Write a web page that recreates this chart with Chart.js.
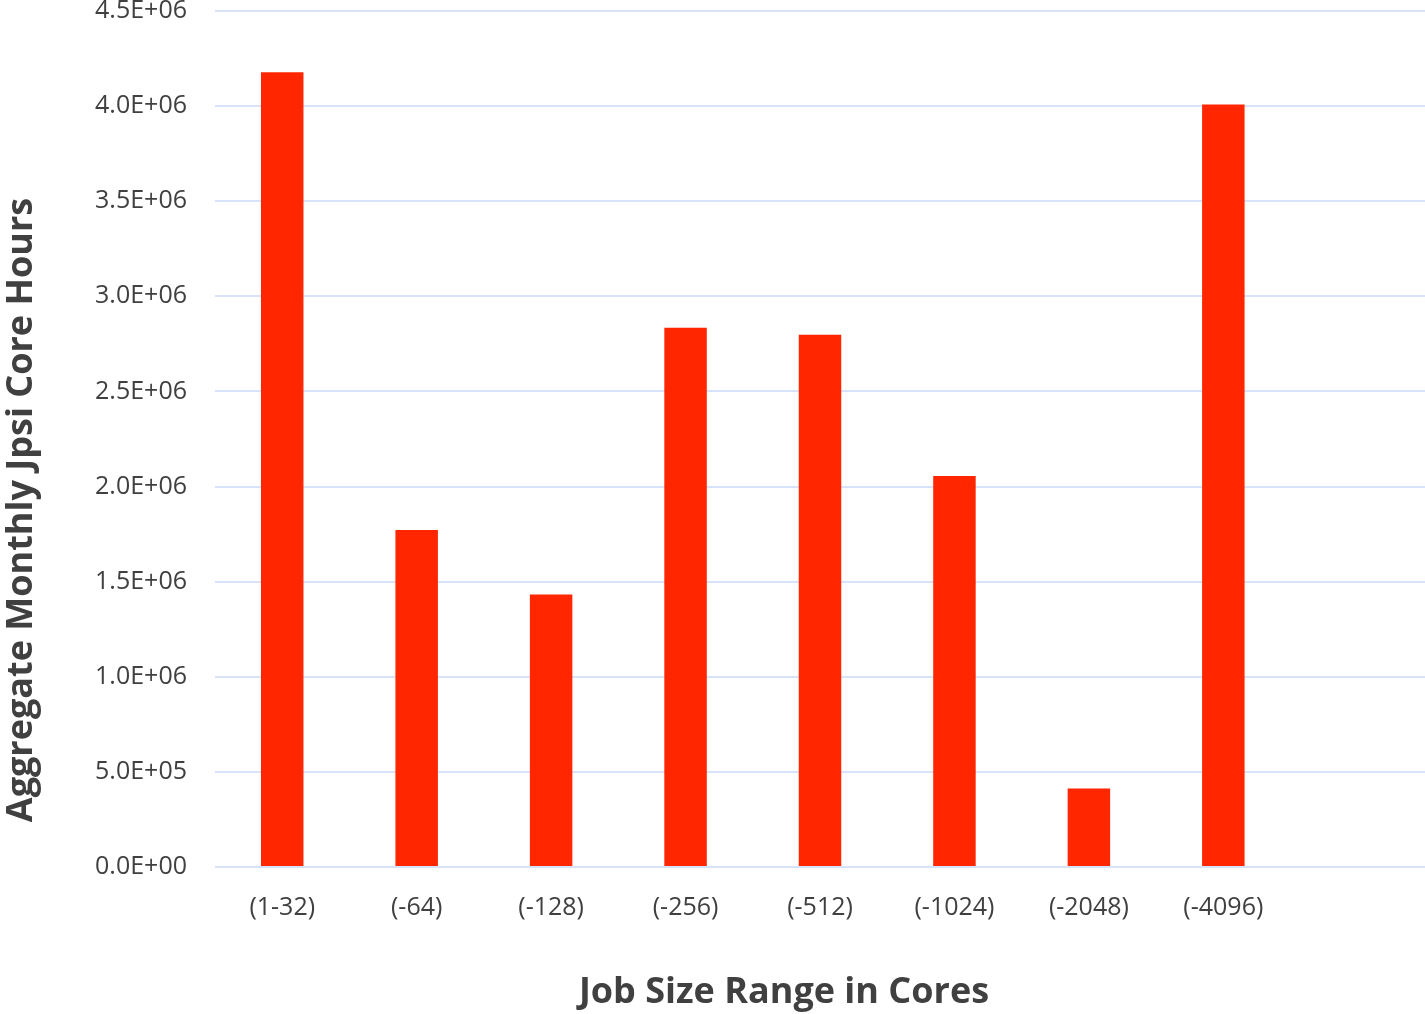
<!DOCTYPE html>
<html>
<head>
<meta charset="utf-8">
<script src="https://cdn.jsdelivr.net/npm/chart.js@4/dist/chart.umd.min.js"></script>
<style>
  html, body { margin: 0; padding: 0; background: #ffffff; }
  #wrap { position: relative; width: 1425px; height: 1014px; }
</style>
</head>
<body>
<div id="wrap"><canvas id="c" width="1425" height="1014"></canvas></div>
<script>
// Job size buckets (last slot is an empty category on the right)
const categories = ['(1-32)', '(-64)', '(-128)', '(-256)', '(-512)', '(-1024)', '(-2048)', '(-4096)', ''];
// Aggregate monthly Jpsi core hours per bucket
const coreHours = [4178000, 1772000, 1432000, 2835000, 2798000, 2056000, 413000, 4009000, null];
// Y tick labels, 0 to 4.5E+06 in steps of 5.0E+05
const yTickLabels = ['0.0E+00', '5.0E+05', '1.0E+06', '1.5E+06', '2.0E+06', '2.5E+06', '3.0E+06', '3.5E+06', '4.0E+06', '4.5E+06'];
const xTitle = 'Job Size Range in Cores';
const yTitle = 'Aggregate Monthly Jpsi Core Hours';

const textColor = '#404040';
const fontFamily = '"Open Sans", "Liberation Sans", sans-serif';

// Axis titles placed at fixed spots around the plot
const axisTitles = {
  id: 'axisTitles',
  afterDraw(chart) {
    const ctx = chart.ctx;
    ctx.save();
    ctx.fillStyle = textColor;
    ctx.font = 'bold 36px ' + fontFamily;
    ctx.textAlign = 'center';
    ctx.textBaseline = 'middle';
    ctx.fillText(xTitle, 784, 993);
    ctx.translate(22, 510);
    ctx.rotate(-Math.PI / 2);
    ctx.fillText(yTitle, 0, 0);
    ctx.restore();
  }
};

new Chart(document.getElementById('c'), {
  type: 'bar',
  data: {
    labels: categories,
    datasets: [{
      data: coreHours,
      backgroundColor: '#ff2600',
      borderWidth: 0,
      barPercentage: 1,
      categoryPercentage: 0.316
    }]
  },
  options: {
    responsive: false,
    animation: false,
    layout: { padding: { top: 11, right: 0, bottom: 0, left: 0 } },
    plugins: { legend: { display: false }, tooltip: { enabled: false } },
    scales: {
      x: {
        grid: { display: false },
        border: { display: false },
        ticks: {
          color: textColor,
          font: { family: fontFamily, size: 25 },
          padding: 18,
          maxRotation: 0,
          autoSkip: false
        },
        afterFit(scale) {
          scale.height = 147;
          scale.paddingLeft = 0;
          scale.paddingRight = 0;
        }
      },
      y: {
        min: 0,
        max: 4500000,
        grid: { color: '#d6e3fa', lineWidth: 2, drawTicks: false },
        border: { display: false },
        ticks: {
          stepSize: 500000,
          color: textColor,
          font: { family: fontFamily, size: 25 },
          padding: 28,
          callback: (v, i) => yTickLabels[i]
        },
        afterFit(scale) {
          scale.width = 215;
          scale.paddingTop = 0;
          scale.paddingBottom = 0;
        }
      }
    }
  },
  plugins: [axisTitles]
});
</script>
</body>
</html>
